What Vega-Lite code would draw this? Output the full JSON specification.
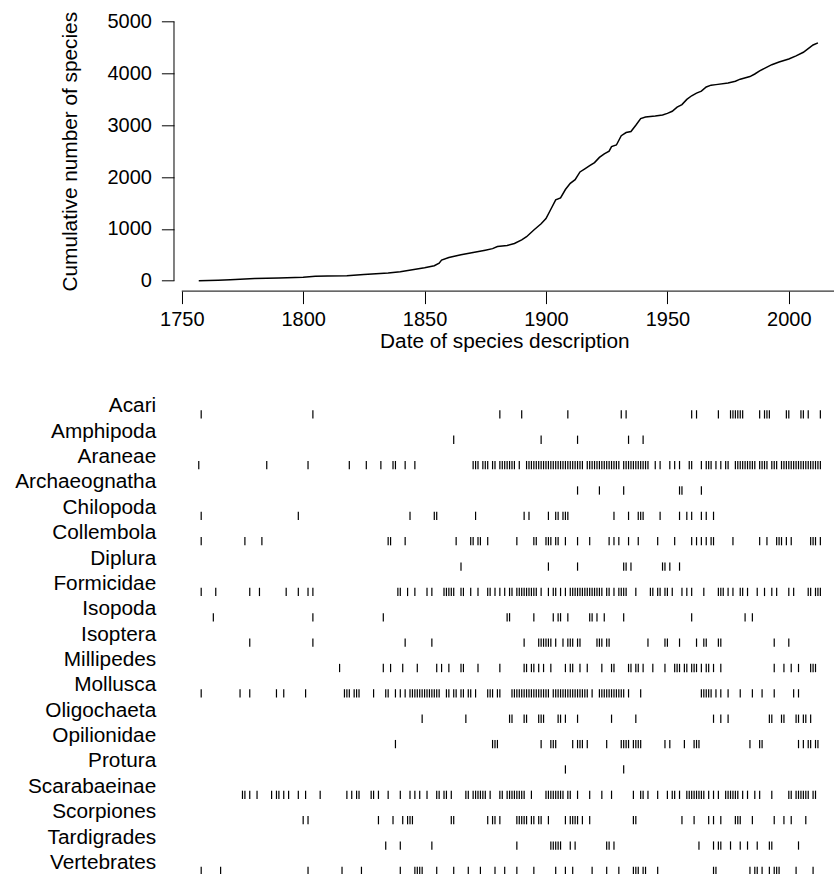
{
  "$schema": "https://vega.github.io/schema/vega-lite/v6.json",
  "padding": {"left": 14, "top": 11.3, "right": 0, "bottom": 0},
  "spacing": 42.8,
  "config": {
    "view": {"stroke": null},
    "font": "Liberation Sans",
    "axis": {
      "labelColor": "black", "titleColor": "black", "tickColor": "black",
      "labelFont": "Liberation Sans", "titleFont": "Liberation Sans",
      "labelFontSize": 20, "titleFontSize": 20.8, "titleFontWeight": "normal",
      "grid": false, "domain": false, "tickWidth": 1
    }
  },
  "datasets": {
    "cumulative": [
      {"year": 1757, "species": 0}, {"year": 1765, "species": 10}, {"year": 1770, "species": 20},
      {"year": 1780, "species": 45}, {"year": 1790, "species": 55}, {"year": 1800, "species": 65},
      {"year": 1805, "species": 85}, {"year": 1810, "species": 92}, {"year": 1818, "species": 95},
      {"year": 1825, "species": 120}, {"year": 1830, "species": 135}, {"year": 1835, "species": 150},
      {"year": 1840, "species": 175}, {"year": 1845, "species": 210}, {"year": 1850, "species": 250},
      {"year": 1854, "species": 290}, {"year": 1856, "species": 340}, {"year": 1857, "species": 400},
      {"year": 1860, "species": 450}, {"year": 1865, "species": 500}, {"year": 1870, "species": 545},
      {"year": 1875, "species": 590}, {"year": 1878, "species": 620}, {"year": 1880, "species": 660},
      {"year": 1884, "species": 680}, {"year": 1887, "species": 720}, {"year": 1890, "species": 790},
      {"year": 1892, "species": 850}, {"year": 1895, "species": 980}, {"year": 1898, "species": 1100},
      {"year": 1900, "species": 1200}, {"year": 1902, "species": 1380}, {"year": 1904, "species": 1560},
      {"year": 1906, "species": 1600}, {"year": 1908, "species": 1760}, {"year": 1910, "species": 1880},
      {"year": 1912, "species": 1950}, {"year": 1914, "species": 2100}, {"year": 1916, "species": 2160},
      {"year": 1918, "species": 2220}, {"year": 1920, "species": 2280}, {"year": 1922, "species": 2380},
      {"year": 1924, "species": 2450}, {"year": 1926, "species": 2500}, {"year": 1927, "species": 2590},
      {"year": 1929, "species": 2620}, {"year": 1931, "species": 2800}, {"year": 1933, "species": 2860},
      {"year": 1935, "species": 2880}, {"year": 1937, "species": 3000}, {"year": 1939, "species": 3130},
      {"year": 1941, "species": 3160}, {"year": 1945, "species": 3180}, {"year": 1948, "species": 3200},
      {"year": 1950, "species": 3230}, {"year": 1952, "species": 3270}, {"year": 1954, "species": 3350},
      {"year": 1956, "species": 3400}, {"year": 1958, "species": 3500}, {"year": 1960, "species": 3570},
      {"year": 1962, "species": 3620}, {"year": 1964, "species": 3660}, {"year": 1966, "species": 3740},
      {"year": 1968, "species": 3775}, {"year": 1970, "species": 3785}, {"year": 1975, "species": 3815},
      {"year": 1978, "species": 3850}, {"year": 1980, "species": 3890}, {"year": 1984, "species": 3940},
      {"year": 1986, "species": 3990}, {"year": 1988, "species": 4050}, {"year": 1990, "species": 4100},
      {"year": 1993, "species": 4170}, {"year": 1996, "species": 4220}, {"year": 2000, "species": 4280},
      {"year": 2003, "species": 4340}, {"year": 2006, "species": 4410}, {"year": 2008, "species": 4480},
      {"year": 2010, "species": 4550}, {"year": 2012, "species": 4590}
    ],
    "descriptions": [
      {"taxon":"Acari","year":1758},{"taxon":"Acari","year":1804},{"taxon":"Acari","year":1881},{"taxon":"Acari","year":1890},{"taxon":"Acari","year":1909},{"taxon":"Acari","year":1931},{"taxon":"Acari","year":1933},{"taxon":"Acari","year":1960},{"taxon":"Acari","year":1962},{"taxon":"Acari","year":1971},{"taxon":"Acari","year":1976},{"taxon":"Acari","year":1977},{"taxon":"Acari","year":1978},{"taxon":"Acari","year":1979},{"taxon":"Acari","year":1980},{"taxon":"Acari","year":1981},{"taxon":"Acari","year":1988},{"taxon":"Acari","year":1990},{"taxon":"Acari","year":1991},{"taxon":"Acari","year":1992},{"taxon":"Acari","year":1999},{"taxon":"Acari","year":2000},{"taxon":"Acari","year":2005},{"taxon":"Acari","year":2006},{"taxon":"Acari","year":2008},{"taxon":"Acari","year":2013},
      {"taxon":"Amphipoda","year":1862},{"taxon":"Amphipoda","year":1898},{"taxon":"Amphipoda","year":1913},{"taxon":"Amphipoda","year":1934},{"taxon":"Amphipoda","year":1940},
      {"taxon":"Araneae","year":1757},{"taxon":"Araneae","year":1785},{"taxon":"Araneae","year":1802},{"taxon":"Araneae","year":1819},{"taxon":"Araneae","year":1826},{"taxon":"Araneae","year":1832},{"taxon":"Araneae","year":1837},{"taxon":"Araneae","year":1838},{"taxon":"Araneae","year":1842},{"taxon":"Araneae","year":1846},{"taxon":"Araneae","year":1870},{"taxon":"Araneae","year":1871},{"taxon":"Araneae","year":1872},{"taxon":"Araneae","year":1874},{"taxon":"Araneae","year":1875},{"taxon":"Araneae","year":1876},{"taxon":"Araneae","year":1878},{"taxon":"Araneae","year":1879},{"taxon":"Araneae","year":1881},{"taxon":"Araneae","year":1882},{"taxon":"Araneae","year":1883},{"taxon":"Araneae","year":1884},{"taxon":"Araneae","year":1885},{"taxon":"Araneae","year":1886},{"taxon":"Araneae","year":1887},{"taxon":"Araneae","year":1889},{"taxon":"Araneae","year":1892},{"taxon":"Araneae","year":1893},{"taxon":"Araneae","year":1894},{"taxon":"Araneae","year":1895},{"taxon":"Araneae","year":1896},{"taxon":"Araneae","year":1897},{"taxon":"Araneae","year":1898},{"taxon":"Araneae","year":1899},{"taxon":"Araneae","year":1900},{"taxon":"Araneae","year":1901},{"taxon":"Araneae","year":1902},{"taxon":"Araneae","year":1903},{"taxon":"Araneae","year":1904},{"taxon":"Araneae","year":1905},{"taxon":"Araneae","year":1906},{"taxon":"Araneae","year":1907},{"taxon":"Araneae","year":1908},{"taxon":"Araneae","year":1909},{"taxon":"Araneae","year":1910},{"taxon":"Araneae","year":1911},{"taxon":"Araneae","year":1912},{"taxon":"Araneae","year":1913},{"taxon":"Araneae","year":1914},{"taxon":"Araneae","year":1915},{"taxon":"Araneae","year":1917},{"taxon":"Araneae","year":1918},{"taxon":"Araneae","year":1919},{"taxon":"Araneae","year":1920},{"taxon":"Araneae","year":1921},{"taxon":"Araneae","year":1922},{"taxon":"Araneae","year":1923},{"taxon":"Araneae","year":1924},{"taxon":"Araneae","year":1925},{"taxon":"Araneae","year":1926},{"taxon":"Araneae","year":1927},{"taxon":"Araneae","year":1928},{"taxon":"Araneae","year":1929},{"taxon":"Araneae","year":1930},{"taxon":"Araneae","year":1932},{"taxon":"Araneae","year":1933},{"taxon":"Araneae","year":1934},{"taxon":"Araneae","year":1935},{"taxon":"Araneae","year":1936},{"taxon":"Araneae","year":1937},{"taxon":"Araneae","year":1938},{"taxon":"Araneae","year":1939},{"taxon":"Araneae","year":1940},{"taxon":"Araneae","year":1941},{"taxon":"Araneae","year":1942},{"taxon":"Araneae","year":1945},{"taxon":"Araneae","year":1947},{"taxon":"Araneae","year":1951},{"taxon":"Araneae","year":1953},{"taxon":"Araneae","year":1955},{"taxon":"Araneae","year":1959},{"taxon":"Araneae","year":1960},{"taxon":"Araneae","year":1964},{"taxon":"Araneae","year":1966},{"taxon":"Araneae","year":1967},{"taxon":"Araneae","year":1968},{"taxon":"Araneae","year":1970},{"taxon":"Araneae","year":1972},{"taxon":"Araneae","year":1974},{"taxon":"Araneae","year":1975},{"taxon":"Araneae","year":1978},{"taxon":"Araneae","year":1979},{"taxon":"Araneae","year":1980},{"taxon":"Araneae","year":1981},{"taxon":"Araneae","year":1982},{"taxon":"Araneae","year":1983},{"taxon":"Araneae","year":1984},{"taxon":"Araneae","year":1985},{"taxon":"Araneae","year":1986},{"taxon":"Araneae","year":1988},{"taxon":"Araneae","year":1989},{"taxon":"Araneae","year":1990},{"taxon":"Araneae","year":1991},{"taxon":"Araneae","year":1993},{"taxon":"Araneae","year":1994},{"taxon":"Araneae","year":1995},{"taxon":"Araneae","year":1997},{"taxon":"Araneae","year":1998},{"taxon":"Araneae","year":1999},{"taxon":"Araneae","year":2000},{"taxon":"Araneae","year":2001},{"taxon":"Araneae","year":2002},{"taxon":"Araneae","year":2003},{"taxon":"Araneae","year":2004},{"taxon":"Araneae","year":2005},{"taxon":"Araneae","year":2006},{"taxon":"Araneae","year":2007},{"taxon":"Araneae","year":2008},{"taxon":"Araneae","year":2009},{"taxon":"Araneae","year":2010},{"taxon":"Araneae","year":2011},{"taxon":"Araneae","year":2012},{"taxon":"Araneae","year":2013},
      {"taxon":"Archaeognatha","year":1913},{"taxon":"Archaeognatha","year":1922},{"taxon":"Archaeognatha","year":1932},{"taxon":"Archaeognatha","year":1955},{"taxon":"Archaeognatha","year":1956},{"taxon":"Archaeognatha","year":1964},
      {"taxon":"Chilopoda","year":1758},{"taxon":"Chilopoda","year":1798},{"taxon":"Chilopoda","year":1844},{"taxon":"Chilopoda","year":1854},{"taxon":"Chilopoda","year":1855},{"taxon":"Chilopoda","year":1871},{"taxon":"Chilopoda","year":1891},{"taxon":"Chilopoda","year":1893},{"taxon":"Chilopoda","year":1901},{"taxon":"Chilopoda","year":1904},{"taxon":"Chilopoda","year":1905},{"taxon":"Chilopoda","year":1907},{"taxon":"Chilopoda","year":1908},{"taxon":"Chilopoda","year":1909},{"taxon":"Chilopoda","year":1928},{"taxon":"Chilopoda","year":1934},{"taxon":"Chilopoda","year":1938},{"taxon":"Chilopoda","year":1939},{"taxon":"Chilopoda","year":1940},{"taxon":"Chilopoda","year":1947},{"taxon":"Chilopoda","year":1955},{"taxon":"Chilopoda","year":1958},{"taxon":"Chilopoda","year":1960},{"taxon":"Chilopoda","year":1964},{"taxon":"Chilopoda","year":1966},{"taxon":"Chilopoda","year":1969},
      {"taxon":"Collembola","year":1758},{"taxon":"Collembola","year":1776},{"taxon":"Collembola","year":1783},{"taxon":"Collembola","year":1835},{"taxon":"Collembola","year":1836},{"taxon":"Collembola","year":1842},{"taxon":"Collembola","year":1863},{"taxon":"Collembola","year":1869},{"taxon":"Collembola","year":1870},{"taxon":"Collembola","year":1872},{"taxon":"Collembola","year":1873},{"taxon":"Collembola","year":1876},{"taxon":"Collembola","year":1888},{"taxon":"Collembola","year":1895},{"taxon":"Collembola","year":1896},{"taxon":"Collembola","year":1900},{"taxon":"Collembola","year":1901},{"taxon":"Collembola","year":1902},{"taxon":"Collembola","year":1904},{"taxon":"Collembola","year":1905},{"taxon":"Collembola","year":1908},{"taxon":"Collembola","year":1913},{"taxon":"Collembola","year":1918},{"taxon":"Collembola","year":1926},{"taxon":"Collembola","year":1928},{"taxon":"Collembola","year":1930},{"taxon":"Collembola","year":1934},{"taxon":"Collembola","year":1938},{"taxon":"Collembola","year":1946},{"taxon":"Collembola","year":1953},{"taxon":"Collembola","year":1960},{"taxon":"Collembola","year":1962},{"taxon":"Collembola","year":1964},{"taxon":"Collembola","year":1966},{"taxon":"Collembola","year":1968},{"taxon":"Collembola","year":1969},{"taxon":"Collembola","year":1977},{"taxon":"Collembola","year":1988},{"taxon":"Collembola","year":1991},{"taxon":"Collembola","year":1995},{"taxon":"Collembola","year":1996},{"taxon":"Collembola","year":1997},{"taxon":"Collembola","year":1999},{"taxon":"Collembola","year":2001},{"taxon":"Collembola","year":2009},{"taxon":"Collembola","year":2010},{"taxon":"Collembola","year":2011},{"taxon":"Collembola","year":2013},
      {"taxon":"Diplura","year":1865},{"taxon":"Diplura","year":1901},{"taxon":"Diplura","year":1913},{"taxon":"Diplura","year":1932},{"taxon":"Diplura","year":1933},{"taxon":"Diplura","year":1935},{"taxon":"Diplura","year":1948},{"taxon":"Diplura","year":1949},{"taxon":"Diplura","year":1951},{"taxon":"Diplura","year":1955},
      {"taxon":"Formicidae","year":1758},{"taxon":"Formicidae","year":1764},{"taxon":"Formicidae","year":1778},{"taxon":"Formicidae","year":1782},{"taxon":"Formicidae","year":1793},{"taxon":"Formicidae","year":1798},{"taxon":"Formicidae","year":1802},{"taxon":"Formicidae","year":1804},{"taxon":"Formicidae","year":1839},{"taxon":"Formicidae","year":1840},{"taxon":"Formicidae","year":1843},{"taxon":"Formicidae","year":1846},{"taxon":"Formicidae","year":1851},{"taxon":"Formicidae","year":1853},{"taxon":"Formicidae","year":1858},{"taxon":"Formicidae","year":1859},{"taxon":"Formicidae","year":1860},{"taxon":"Formicidae","year":1861},{"taxon":"Formicidae","year":1862},{"taxon":"Formicidae","year":1865},{"taxon":"Formicidae","year":1866},{"taxon":"Formicidae","year":1869},{"taxon":"Formicidae","year":1872},{"taxon":"Formicidae","year":1876},{"taxon":"Formicidae","year":1877},{"taxon":"Formicidae","year":1879},{"taxon":"Formicidae","year":1881},{"taxon":"Formicidae","year":1883},{"taxon":"Formicidae","year":1885},{"taxon":"Formicidae","year":1886},{"taxon":"Formicidae","year":1888},{"taxon":"Formicidae","year":1889},{"taxon":"Formicidae","year":1890},{"taxon":"Formicidae","year":1891},{"taxon":"Formicidae","year":1892},{"taxon":"Formicidae","year":1893},{"taxon":"Formicidae","year":1894},{"taxon":"Formicidae","year":1895},{"taxon":"Formicidae","year":1896},{"taxon":"Formicidae","year":1898},{"taxon":"Formicidae","year":1901},{"taxon":"Formicidae","year":1903},{"taxon":"Formicidae","year":1904},{"taxon":"Formicidae","year":1906},{"taxon":"Formicidae","year":1908},{"taxon":"Formicidae","year":1910},{"taxon":"Formicidae","year":1911},{"taxon":"Formicidae","year":1912},{"taxon":"Formicidae","year":1913},{"taxon":"Formicidae","year":1914},{"taxon":"Formicidae","year":1915},{"taxon":"Formicidae","year":1916},{"taxon":"Formicidae","year":1917},{"taxon":"Formicidae","year":1918},{"taxon":"Formicidae","year":1919},{"taxon":"Formicidae","year":1920},{"taxon":"Formicidae","year":1921},{"taxon":"Formicidae","year":1922},{"taxon":"Formicidae","year":1923},{"taxon":"Formicidae","year":1925},{"taxon":"Formicidae","year":1926},{"taxon":"Formicidae","year":1928},{"taxon":"Formicidae","year":1930},{"taxon":"Formicidae","year":1931},{"taxon":"Formicidae","year":1932},{"taxon":"Formicidae","year":1933},{"taxon":"Formicidae","year":1937},{"taxon":"Formicidae","year":1943},{"taxon":"Formicidae","year":1944},{"taxon":"Formicidae","year":1946},{"taxon":"Formicidae","year":1947},{"taxon":"Formicidae","year":1949},{"taxon":"Formicidae","year":1950},{"taxon":"Formicidae","year":1952},{"taxon":"Formicidae","year":1956},{"taxon":"Formicidae","year":1958},{"taxon":"Formicidae","year":1960},{"taxon":"Formicidae","year":1965},{"taxon":"Formicidae","year":1971},{"taxon":"Formicidae","year":1972},{"taxon":"Formicidae","year":1973},{"taxon":"Formicidae","year":1975},{"taxon":"Formicidae","year":1977},{"taxon":"Formicidae","year":1980},{"taxon":"Formicidae","year":1981},{"taxon":"Formicidae","year":1983},{"taxon":"Formicidae","year":1987},{"taxon":"Formicidae","year":1990},{"taxon":"Formicidae","year":1993},{"taxon":"Formicidae","year":1995},{"taxon":"Formicidae","year":2000},{"taxon":"Formicidae","year":2002},{"taxon":"Formicidae","year":2008},{"taxon":"Formicidae","year":2009},{"taxon":"Formicidae","year":2011},{"taxon":"Formicidae","year":2012},{"taxon":"Formicidae","year":2013},
      {"taxon":"Isopoda","year":1763},{"taxon":"Isopoda","year":1804},{"taxon":"Isopoda","year":1833},{"taxon":"Isopoda","year":1884},{"taxon":"Isopoda","year":1885},{"taxon":"Isopoda","year":1895},{"taxon":"Isopoda","year":1903},{"taxon":"Isopoda","year":1905},{"taxon":"Isopoda","year":1906},{"taxon":"Isopoda","year":1909},{"taxon":"Isopoda","year":1918},{"taxon":"Isopoda","year":1919},{"taxon":"Isopoda","year":1921},{"taxon":"Isopoda","year":1924},{"taxon":"Isopoda","year":1932},{"taxon":"Isopoda","year":1960},{"taxon":"Isopoda","year":1982},{"taxon":"Isopoda","year":1985},
      {"taxon":"Isoptera","year":1778},{"taxon":"Isoptera","year":1804},{"taxon":"Isoptera","year":1842},{"taxon":"Isoptera","year":1853},{"taxon":"Isoptera","year":1891},{"taxon":"Isoptera","year":1897},{"taxon":"Isoptera","year":1898},{"taxon":"Isoptera","year":1899},{"taxon":"Isoptera","year":1900},{"taxon":"Isoptera","year":1901},{"taxon":"Isoptera","year":1902},{"taxon":"Isoptera","year":1904},{"taxon":"Isoptera","year":1907},{"taxon":"Isoptera","year":1909},{"taxon":"Isoptera","year":1910},{"taxon":"Isoptera","year":1911},{"taxon":"Isoptera","year":1913},{"taxon":"Isoptera","year":1914},{"taxon":"Isoptera","year":1921},{"taxon":"Isoptera","year":1922},{"taxon":"Isoptera","year":1923},{"taxon":"Isoptera","year":1925},{"taxon":"Isoptera","year":1926},{"taxon":"Isoptera","year":1942},{"taxon":"Isoptera","year":1949},{"taxon":"Isoptera","year":1950},{"taxon":"Isoptera","year":1955},{"taxon":"Isoptera","year":1962},{"taxon":"Isoptera","year":1965},{"taxon":"Isoptera","year":1966},{"taxon":"Isoptera","year":1971},{"taxon":"Isoptera","year":1972},{"taxon":"Isoptera","year":1994},{"taxon":"Isoptera","year":2000},
      {"taxon":"Millipedes","year":1815},{"taxon":"Millipedes","year":1833},{"taxon":"Millipedes","year":1836},{"taxon":"Millipedes","year":1841},{"taxon":"Millipedes","year":1847},{"taxon":"Millipedes","year":1855},{"taxon":"Millipedes","year":1857},{"taxon":"Millipedes","year":1860},{"taxon":"Millipedes","year":1865},{"taxon":"Millipedes","year":1866},{"taxon":"Millipedes","year":1872},{"taxon":"Millipedes","year":1881},{"taxon":"Millipedes","year":1891},{"taxon":"Millipedes","year":1892},{"taxon":"Millipedes","year":1894},{"taxon":"Millipedes","year":1895},{"taxon":"Millipedes","year":1897},{"taxon":"Millipedes","year":1899},{"taxon":"Millipedes","year":1902},{"taxon":"Millipedes","year":1908},{"taxon":"Millipedes","year":1910},{"taxon":"Millipedes","year":1911},{"taxon":"Millipedes","year":1914},{"taxon":"Millipedes","year":1917},{"taxon":"Millipedes","year":1923},{"taxon":"Millipedes","year":1927},{"taxon":"Millipedes","year":1928},{"taxon":"Millipedes","year":1934},{"taxon":"Millipedes","year":1935},{"taxon":"Millipedes","year":1937},{"taxon":"Millipedes","year":1938},{"taxon":"Millipedes","year":1940},{"taxon":"Millipedes","year":1944},{"taxon":"Millipedes","year":1949},{"taxon":"Millipedes","year":1953},{"taxon":"Millipedes","year":1954},{"taxon":"Millipedes","year":1955},{"taxon":"Millipedes","year":1957},{"taxon":"Millipedes","year":1958},{"taxon":"Millipedes","year":1960},{"taxon":"Millipedes","year":1961},{"taxon":"Millipedes","year":1962},{"taxon":"Millipedes","year":1964},{"taxon":"Millipedes","year":1966},{"taxon":"Millipedes","year":1967},{"taxon":"Millipedes","year":1969},{"taxon":"Millipedes","year":1972},{"taxon":"Millipedes","year":1994},{"taxon":"Millipedes","year":1998},{"taxon":"Millipedes","year":2001},{"taxon":"Millipedes","year":2004},{"taxon":"Millipedes","year":2009},{"taxon":"Millipedes","year":2010},{"taxon":"Millipedes","year":2011},
      {"taxon":"Mollusca","year":1758},{"taxon":"Mollusca","year":1774},{"taxon":"Mollusca","year":1778},{"taxon":"Mollusca","year":1789},{"taxon":"Mollusca","year":1792},{"taxon":"Mollusca","year":1801},{"taxon":"Mollusca","year":1817},{"taxon":"Mollusca","year":1818},{"taxon":"Mollusca","year":1819},{"taxon":"Mollusca","year":1821},{"taxon":"Mollusca","year":1822},{"taxon":"Mollusca","year":1823},{"taxon":"Mollusca","year":1829},{"taxon":"Mollusca","year":1834},{"taxon":"Mollusca","year":1835},{"taxon":"Mollusca","year":1838},{"taxon":"Mollusca","year":1840},{"taxon":"Mollusca","year":1842},{"taxon":"Mollusca","year":1844},{"taxon":"Mollusca","year":1845},{"taxon":"Mollusca","year":1846},{"taxon":"Mollusca","year":1847},{"taxon":"Mollusca","year":1848},{"taxon":"Mollusca","year":1849},{"taxon":"Mollusca","year":1850},{"taxon":"Mollusca","year":1851},{"taxon":"Mollusca","year":1852},{"taxon":"Mollusca","year":1853},{"taxon":"Mollusca","year":1854},{"taxon":"Mollusca","year":1855},{"taxon":"Mollusca","year":1856},{"taxon":"Mollusca","year":1859},{"taxon":"Mollusca","year":1860},{"taxon":"Mollusca","year":1862},{"taxon":"Mollusca","year":1863},{"taxon":"Mollusca","year":1865},{"taxon":"Mollusca","year":1866},{"taxon":"Mollusca","year":1868},{"taxon":"Mollusca","year":1869},{"taxon":"Mollusca","year":1871},{"taxon":"Mollusca","year":1876},{"taxon":"Mollusca","year":1877},{"taxon":"Mollusca","year":1878},{"taxon":"Mollusca","year":1880},{"taxon":"Mollusca","year":1881},{"taxon":"Mollusca","year":1886},{"taxon":"Mollusca","year":1887},{"taxon":"Mollusca","year":1888},{"taxon":"Mollusca","year":1889},{"taxon":"Mollusca","year":1890},{"taxon":"Mollusca","year":1891},{"taxon":"Mollusca","year":1892},{"taxon":"Mollusca","year":1893},{"taxon":"Mollusca","year":1894},{"taxon":"Mollusca","year":1895},{"taxon":"Mollusca","year":1896},{"taxon":"Mollusca","year":1897},{"taxon":"Mollusca","year":1898},{"taxon":"Mollusca","year":1899},{"taxon":"Mollusca","year":1900},{"taxon":"Mollusca","year":1901},{"taxon":"Mollusca","year":1903},{"taxon":"Mollusca","year":1904},{"taxon":"Mollusca","year":1905},{"taxon":"Mollusca","year":1906},{"taxon":"Mollusca","year":1907},{"taxon":"Mollusca","year":1908},{"taxon":"Mollusca","year":1909},{"taxon":"Mollusca","year":1910},{"taxon":"Mollusca","year":1911},{"taxon":"Mollusca","year":1912},{"taxon":"Mollusca","year":1913},{"taxon":"Mollusca","year":1914},{"taxon":"Mollusca","year":1915},{"taxon":"Mollusca","year":1916},{"taxon":"Mollusca","year":1917},{"taxon":"Mollusca","year":1919},{"taxon":"Mollusca","year":1922},{"taxon":"Mollusca","year":1923},{"taxon":"Mollusca","year":1924},{"taxon":"Mollusca","year":1925},{"taxon":"Mollusca","year":1926},{"taxon":"Mollusca","year":1927},{"taxon":"Mollusca","year":1928},{"taxon":"Mollusca","year":1929},{"taxon":"Mollusca","year":1930},{"taxon":"Mollusca","year":1931},{"taxon":"Mollusca","year":1932},{"taxon":"Mollusca","year":1934},{"taxon":"Mollusca","year":1939},{"taxon":"Mollusca","year":1964},{"taxon":"Mollusca","year":1965},{"taxon":"Mollusca","year":1966},{"taxon":"Mollusca","year":1967},{"taxon":"Mollusca","year":1968},{"taxon":"Mollusca","year":1970},{"taxon":"Mollusca","year":1972},{"taxon":"Mollusca","year":1975},{"taxon":"Mollusca","year":1980},{"taxon":"Mollusca","year":1985},{"taxon":"Mollusca","year":1989},{"taxon":"Mollusca","year":1994},{"taxon":"Mollusca","year":2002},{"taxon":"Mollusca","year":2004},
      {"taxon":"Oligochaeta","year":1849},{"taxon":"Oligochaeta","year":1867},{"taxon":"Oligochaeta","year":1885},{"taxon":"Oligochaeta","year":1886},{"taxon":"Oligochaeta","year":1891},{"taxon":"Oligochaeta","year":1892},{"taxon":"Oligochaeta","year":1897},{"taxon":"Oligochaeta","year":1898},{"taxon":"Oligochaeta","year":1899},{"taxon":"Oligochaeta","year":1905},{"taxon":"Oligochaeta","year":1906},{"taxon":"Oligochaeta","year":1908},{"taxon":"Oligochaeta","year":1913},{"taxon":"Oligochaeta","year":1927},{"taxon":"Oligochaeta","year":1937},{"taxon":"Oligochaeta","year":1969},{"taxon":"Oligochaeta","year":1972},{"taxon":"Oligochaeta","year":1975},{"taxon":"Oligochaeta","year":1992},{"taxon":"Oligochaeta","year":1993},{"taxon":"Oligochaeta","year":1997},{"taxon":"Oligochaeta","year":1998},{"taxon":"Oligochaeta","year":2003},{"taxon":"Oligochaeta","year":2004},{"taxon":"Oligochaeta","year":2006},{"taxon":"Oligochaeta","year":2007},{"taxon":"Oligochaeta","year":2009},
      {"taxon":"Opilionidae","year":1838},{"taxon":"Opilionidae","year":1878},{"taxon":"Opilionidae","year":1879},{"taxon":"Opilionidae","year":1880},{"taxon":"Opilionidae","year":1898},{"taxon":"Opilionidae","year":1902},{"taxon":"Opilionidae","year":1903},{"taxon":"Opilionidae","year":1904},{"taxon":"Opilionidae","year":1911},{"taxon":"Opilionidae","year":1913},{"taxon":"Opilionidae","year":1914},{"taxon":"Opilionidae","year":1915},{"taxon":"Opilionidae","year":1917},{"taxon":"Opilionidae","year":1925},{"taxon":"Opilionidae","year":1931},{"taxon":"Opilionidae","year":1932},{"taxon":"Opilionidae","year":1933},{"taxon":"Opilionidae","year":1934},{"taxon":"Opilionidae","year":1936},{"taxon":"Opilionidae","year":1937},{"taxon":"Opilionidae","year":1938},{"taxon":"Opilionidae","year":1939},{"taxon":"Opilionidae","year":1949},{"taxon":"Opilionidae","year":1951},{"taxon":"Opilionidae","year":1957},{"taxon":"Opilionidae","year":1961},{"taxon":"Opilionidae","year":1962},{"taxon":"Opilionidae","year":1963},{"taxon":"Opilionidae","year":1984},{"taxon":"Opilionidae","year":1988},{"taxon":"Opilionidae","year":1989},{"taxon":"Opilionidae","year":2004},{"taxon":"Opilionidae","year":2006},{"taxon":"Opilionidae","year":2008},{"taxon":"Opilionidae","year":2009},{"taxon":"Opilionidae","year":2011},{"taxon":"Opilionidae","year":2012},
      {"taxon":"Protura","year":1908},{"taxon":"Protura","year":1932},
      {"taxon":"Scarabaeinae","year":1775},{"taxon":"Scarabaeinae","year":1776},{"taxon":"Scarabaeinae","year":1778},{"taxon":"Scarabaeinae","year":1781},{"taxon":"Scarabaeinae","year":1787},{"taxon":"Scarabaeinae","year":1789},{"taxon":"Scarabaeinae","year":1790},{"taxon":"Scarabaeinae","year":1792},{"taxon":"Scarabaeinae","year":1794},{"taxon":"Scarabaeinae","year":1798},{"taxon":"Scarabaeinae","year":1801},{"taxon":"Scarabaeinae","year":1807},{"taxon":"Scarabaeinae","year":1818},{"taxon":"Scarabaeinae","year":1820},{"taxon":"Scarabaeinae","year":1822},{"taxon":"Scarabaeinae","year":1823},{"taxon":"Scarabaeinae","year":1828},{"taxon":"Scarabaeinae","year":1829},{"taxon":"Scarabaeinae","year":1831},{"taxon":"Scarabaeinae","year":1835},{"taxon":"Scarabaeinae","year":1840},{"taxon":"Scarabaeinae","year":1844},{"taxon":"Scarabaeinae","year":1846},{"taxon":"Scarabaeinae","year":1848},{"taxon":"Scarabaeinae","year":1851},{"taxon":"Scarabaeinae","year":1855},{"taxon":"Scarabaeinae","year":1856},{"taxon":"Scarabaeinae","year":1858},{"taxon":"Scarabaeinae","year":1859},{"taxon":"Scarabaeinae","year":1861},{"taxon":"Scarabaeinae","year":1867},{"taxon":"Scarabaeinae","year":1868},{"taxon":"Scarabaeinae","year":1870},{"taxon":"Scarabaeinae","year":1871},{"taxon":"Scarabaeinae","year":1872},{"taxon":"Scarabaeinae","year":1873},{"taxon":"Scarabaeinae","year":1874},{"taxon":"Scarabaeinae","year":1875},{"taxon":"Scarabaeinae","year":1877},{"taxon":"Scarabaeinae","year":1881},{"taxon":"Scarabaeinae","year":1882},{"taxon":"Scarabaeinae","year":1884},{"taxon":"Scarabaeinae","year":1885},{"taxon":"Scarabaeinae","year":1886},{"taxon":"Scarabaeinae","year":1887},{"taxon":"Scarabaeinae","year":1888},{"taxon":"Scarabaeinae","year":1889},{"taxon":"Scarabaeinae","year":1890},{"taxon":"Scarabaeinae","year":1891},{"taxon":"Scarabaeinae","year":1894},{"taxon":"Scarabaeinae","year":1900},{"taxon":"Scarabaeinae","year":1901},{"taxon":"Scarabaeinae","year":1902},{"taxon":"Scarabaeinae","year":1903},{"taxon":"Scarabaeinae","year":1904},{"taxon":"Scarabaeinae","year":1905},{"taxon":"Scarabaeinae","year":1906},{"taxon":"Scarabaeinae","year":1907},{"taxon":"Scarabaeinae","year":1909},{"taxon":"Scarabaeinae","year":1910},{"taxon":"Scarabaeinae","year":1913},{"taxon":"Scarabaeinae","year":1918},{"taxon":"Scarabaeinae","year":1923},{"taxon":"Scarabaeinae","year":1927},{"taxon":"Scarabaeinae","year":1936},{"taxon":"Scarabaeinae","year":1939},{"taxon":"Scarabaeinae","year":1940},{"taxon":"Scarabaeinae","year":1942},{"taxon":"Scarabaeinae","year":1946},{"taxon":"Scarabaeinae","year":1950},{"taxon":"Scarabaeinae","year":1952},{"taxon":"Scarabaeinae","year":1953},{"taxon":"Scarabaeinae","year":1955},{"taxon":"Scarabaeinae","year":1958},{"taxon":"Scarabaeinae","year":1959},{"taxon":"Scarabaeinae","year":1960},{"taxon":"Scarabaeinae","year":1961},{"taxon":"Scarabaeinae","year":1962},{"taxon":"Scarabaeinae","year":1963},{"taxon":"Scarabaeinae","year":1964},{"taxon":"Scarabaeinae","year":1965},{"taxon":"Scarabaeinae","year":1967},{"taxon":"Scarabaeinae","year":1969},{"taxon":"Scarabaeinae","year":1971},{"taxon":"Scarabaeinae","year":1974},{"taxon":"Scarabaeinae","year":1975},{"taxon":"Scarabaeinae","year":1976},{"taxon":"Scarabaeinae","year":1977},{"taxon":"Scarabaeinae","year":1978},{"taxon":"Scarabaeinae","year":1979},{"taxon":"Scarabaeinae","year":1981},{"taxon":"Scarabaeinae","year":1983},{"taxon":"Scarabaeinae","year":1986},{"taxon":"Scarabaeinae","year":1988},{"taxon":"Scarabaeinae","year":1993},{"taxon":"Scarabaeinae","year":2000},{"taxon":"Scarabaeinae","year":2001},{"taxon":"Scarabaeinae","year":2003},{"taxon":"Scarabaeinae","year":2004},{"taxon":"Scarabaeinae","year":2005},{"taxon":"Scarabaeinae","year":2006},{"taxon":"Scarabaeinae","year":2007},{"taxon":"Scarabaeinae","year":2008},{"taxon":"Scarabaeinae","year":2010},{"taxon":"Scarabaeinae","year":2011},
      {"taxon":"Scorpiones","year":1800},{"taxon":"Scorpiones","year":1802},{"taxon":"Scorpiones","year":1831},{"taxon":"Scorpiones","year":1837},{"taxon":"Scorpiones","year":1841},{"taxon":"Scorpiones","year":1843},{"taxon":"Scorpiones","year":1844},{"taxon":"Scorpiones","year":1845},{"taxon":"Scorpiones","year":1861},{"taxon":"Scorpiones","year":1862},{"taxon":"Scorpiones","year":1876},{"taxon":"Scorpiones","year":1878},{"taxon":"Scorpiones","year":1879},{"taxon":"Scorpiones","year":1881},{"taxon":"Scorpiones","year":1888},{"taxon":"Scorpiones","year":1889},{"taxon":"Scorpiones","year":1890},{"taxon":"Scorpiones","year":1891},{"taxon":"Scorpiones","year":1892},{"taxon":"Scorpiones","year":1894},{"taxon":"Scorpiones","year":1895},{"taxon":"Scorpiones","year":1897},{"taxon":"Scorpiones","year":1898},{"taxon":"Scorpiones","year":1901},{"taxon":"Scorpiones","year":1908},{"taxon":"Scorpiones","year":1910},{"taxon":"Scorpiones","year":1911},{"taxon":"Scorpiones","year":1912},{"taxon":"Scorpiones","year":1913},{"taxon":"Scorpiones","year":1915},{"taxon":"Scorpiones","year":1918},{"taxon":"Scorpiones","year":1936},{"taxon":"Scorpiones","year":1937},{"taxon":"Scorpiones","year":1956},{"taxon":"Scorpiones","year":1961},{"taxon":"Scorpiones","year":1967},{"taxon":"Scorpiones","year":1969},{"taxon":"Scorpiones","year":1972},{"taxon":"Scorpiones","year":1978},{"taxon":"Scorpiones","year":1979},{"taxon":"Scorpiones","year":1980},{"taxon":"Scorpiones","year":1985},{"taxon":"Scorpiones","year":1994},{"taxon":"Scorpiones","year":1998},{"taxon":"Scorpiones","year":2001},{"taxon":"Scorpiones","year":2007},
      {"taxon":"Tardigrades","year":1834},{"taxon":"Tardigrades","year":1840},{"taxon":"Tardigrades","year":1853},{"taxon":"Tardigrades","year":1888},{"taxon":"Tardigrades","year":1902},{"taxon":"Tardigrades","year":1903},{"taxon":"Tardigrades","year":1904},{"taxon":"Tardigrades","year":1905},{"taxon":"Tardigrades","year":1906},{"taxon":"Tardigrades","year":1910},{"taxon":"Tardigrades","year":1912},{"taxon":"Tardigrades","year":1925},{"taxon":"Tardigrades","year":1926},{"taxon":"Tardigrades","year":1928},{"taxon":"Tardigrades","year":1963},{"taxon":"Tardigrades","year":1969},{"taxon":"Tardigrades","year":1971},{"taxon":"Tardigrades","year":1972},{"taxon":"Tardigrades","year":1976},{"taxon":"Tardigrades","year":1980},{"taxon":"Tardigrades","year":1983},{"taxon":"Tardigrades","year":1987},{"taxon":"Tardigrades","year":1992},{"taxon":"Tardigrades","year":1993},{"taxon":"Tardigrades","year":2004},
      {"taxon":"Vertebrates","year":1758},{"taxon":"Vertebrates","year":1766},{"taxon":"Vertebrates","year":1802},{"taxon":"Vertebrates","year":1816},{"taxon":"Vertebrates","year":1824},{"taxon":"Vertebrates","year":1840},{"taxon":"Vertebrates","year":1846},{"taxon":"Vertebrates","year":1847},{"taxon":"Vertebrates","year":1848},{"taxon":"Vertebrates","year":1849},{"taxon":"Vertebrates","year":1855},{"taxon":"Vertebrates","year":1862},{"taxon":"Vertebrates","year":1868},{"taxon":"Vertebrates","year":1873},{"taxon":"Vertebrates","year":1879},{"taxon":"Vertebrates","year":1883},{"taxon":"Vertebrates","year":1888},{"taxon":"Vertebrates","year":1895},{"taxon":"Vertebrates","year":1904},{"taxon":"Vertebrates","year":1908},{"taxon":"Vertebrates","year":1911},{"taxon":"Vertebrates","year":1919},{"taxon":"Vertebrates","year":1925},{"taxon":"Vertebrates","year":1930},{"taxon":"Vertebrates","year":1936},{"taxon":"Vertebrates","year":1937},{"taxon":"Vertebrates","year":1938},{"taxon":"Vertebrates","year":1940},{"taxon":"Vertebrates","year":1941},{"taxon":"Vertebrates","year":1946},{"taxon":"Vertebrates","year":1969},{"taxon":"Vertebrates","year":1970},{"taxon":"Vertebrates","year":1984},{"taxon":"Vertebrates","year":1986},{"taxon":"Vertebrates","year":1987},{"taxon":"Vertebrates","year":1989},{"taxon":"Vertebrates","year":1992},{"taxon":"Vertebrates","year":1994},{"taxon":"Vertebrates","year":1995},{"taxon":"Vertebrates","year":1996},{"taxon":"Vertebrates","year":2003},{"taxon":"Vertebrates","year":2010}
    ]
  },
  "vconcat": [
    {
      "width": 660.7,
      "height": 279.8,
      "layer": [
        {
          "data": {"name": "cumulative"},
          "mark": {"type": "line", "color": "black", "strokeWidth": 1.5},
          "encoding": {
            "x": {
              "field": "year", "type": "quantitative",
              "scale": {"domain": [1746.8, 2018.9], "nice": false, "zero": false},
              "axis": {
                "values": [1750, 1800, 1850, 1900, 1950, 2000], "format": "d",
                "tickSize": 12.5, "labelPadding": 5.5, "labelFlush": false,
                "title": "Date of species description", "titlePadding": 2
              }
            },
            "y": {
              "field": "species", "type": "quantitative",
              "scale": {"domain": [-200, 5200], "nice": false, "zero": false},
              "axis": {
                "values": [0, 1000, 2000, 3000, 4000, 5000], "format": "d",
                "tickSize": 12.6, "labelPadding": 10,
                "title": "Cumulative number of species", "titlePadding": 26
              }
            }
          }
        },
        {
          "data": {"values": [{}]},
          "mark": {"type": "rule", "color": "black", "strokeWidth": 1},
          "encoding": {
            "x": {"datum": 1750, "type": "quantitative"},
            "x2": {"datum": 2018.9},
            "y": {"datum": -200, "type": "quantitative"}
          }
        },
        {
          "data": {"values": [{}]},
          "mark": {"type": "rule", "color": "black", "strokeWidth": 1},
          "encoding": {
            "x": {"datum": 1746.8, "type": "quantitative"},
            "y": {"datum": 0, "type": "quantitative"},
            "y2": {"datum": 5000}
          }
        }
      ]
    },
    {
      "width": 660.7,
      "height": 463.1,
      "data": {"name": "descriptions"},
      "mark": {"type": "tick", "color": "black", "thickness": 1.2, "size": 8.3, "opacity": 1},
      "encoding": {
        "x": {
          "field": "year", "type": "quantitative",
          "scale": {"domain": [1746.8, 2018.9], "nice": false, "zero": false},
          "axis": null
        },
        "y": {
          "field": "taxon", "type": "nominal",
          "sort": ["Acari", "Amphipoda", "Araneae", "Archaeognatha", "Chilopoda", "Collembola", "Diplura", "Formicidae", "Isopoda", "Isoptera", "Millipedes", "Mollusca", "Oligochaeta", "Opilionidae", "Protura", "Scarabaeinae", "Scorpiones", "Tardigrades", "Vertebrates"],
          "scale": {"type": "point", "padding": 0.13},
          "axis": {"title": null, "ticks": false, "tickSize": 0, "labelPadding": 18.3, "labelOffset": -8.5, "labelAlign": "right", "labelFontSize": 20.8}
        }
      }
    }
  ]
}
